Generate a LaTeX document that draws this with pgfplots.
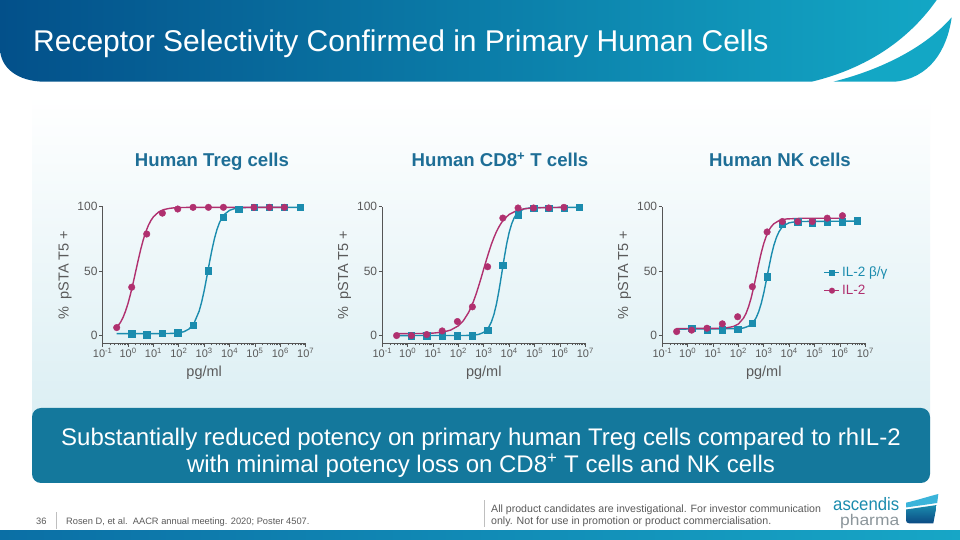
\documentclass[border=0pt]{standalone}
\usepackage{fontspec}
\setmainfont{Liberation Sans}
\usepackage{graphicx}
\usepackage{pgfplots}
\pgfplotsset{compat=1.18}
\definecolor{tealc}{HTML}{1B8CAE}
\definecolor{magc}{HTML}{B0306F}
\definecolor{titleblue}{HTML}{1E6E96}
\definecolor{axisgray}{HTML}{555555}
\definecolor{labelgray}{HTML}{5A5A5A}
\definecolor{boxblue}{HTML}{14789C}
\definecolor{bannerL}{HTML}{03508A}
\definecolor{bannerR}{HTML}{13A7C5}
\definecolor{panelc}{HTML}{DAEEF3}
\definecolor{bandL}{HTML}{0B6FA5}
\definecolor{bandR}{HTML}{17A6C6}
\definecolor{logoL}{HTML}{3BB4DA}
\definecolor{logoD}{HTML}{0B4A83}
\definecolor{logogray}{HTML}{8C969B}
\pgfplotsset{
 cell/.style={
  scale only axis, width=203pt, height=136.6pt, anchor=south west,
  xmin=-1, xmax=7, ymin=-6, ymax=100,
  axis x line*=bottom, axis y line*=left,
  axis line style={draw=axisgray, line width=0.9pt, -},
  xtick={-1,0,1,2,3,4,5,6,7},
  xticklabels={10\textsuperscript{-1},10\textsuperscript{0},10\textsuperscript{1},10\textsuperscript{2},10\textsuperscript{3},10\textsuperscript{4},10\textsuperscript{5},10\textsuperscript{6},10\textsuperscript{7}},
  minor xtick={-0.699,-0.523,-0.398,-0.301,-0.222,-0.155,-0.097,-0.046,
   0.301,0.477,0.602,0.699,0.778,0.845,0.903,0.954,
   1.301,1.477,1.602,1.699,1.778,1.845,1.903,1.954,
   2.301,2.477,2.602,2.699,2.778,2.845,2.903,2.954,
   3.301,3.477,3.602,3.699,3.778,3.845,3.903,3.954,
   4.301,4.477,4.602,4.699,4.778,4.845,4.903,4.954,
   5.301,5.477,5.602,5.699,5.778,5.845,5.903,5.954,
   6.301,6.477,6.602,6.699,6.778,6.845,6.903,6.954},
  ytick={0,50,100}, yticklabels={0,50,100},
  tick align=outside, major tick length=3.5pt, minor tick length=2pt,
  tick style={draw=axisgray, line width=0.8pt},
  x tick label style={font=\fontsize{11}{12}\selectfont, text=labelgray, inner sep=1pt},
  y tick label style={font=\fontsize{12}{14}\selectfont, text=labelgray, inner sep=1.5pt},
  xlabel={pg/ml},
  xlabel style={at={(axis description cs:0.5,-0.217)}, anchor=center, font=\fontsize{14.5}{16}\selectfont, text=labelgray},
  ylabel={\%\hspace{7pt}pSTA T5 +},
  ylabel style={at={(axis description cs:-0.186,0.5)}, anchor=center, font=\fontsize{14.5}{16}\selectfont, text=labelgray},
  clip=false,
 },
 curve/.style={line width=1.4pt, line join=round},
 sq/.style={only marks, mark=square*, mark size=3.2pt, tealc},
 ci/.style={only marks, mark=*, mark size=3.3pt, magc},
}
\begin{document}
\begin{tikzpicture}
\begin{scope}[x=1pt,y=1pt]
\useasboundingbox (0,0) rectangle (960,540);
\fill[white] (0,0) rectangle (960,540);
% panel
\shade[top color=white, bottom color=panelc] (32,110) rectangle (930,445);
% banner
\shade[left color=bannerL, right color=bannerR] (0,540) -- (936.7,540) .. controls (905,495) and (860,470) .. (811.7,458.3) -- (45,458.3) .. controls (18,458.3) and (0,472) .. (0,492) -- cycle;
\fill[bannerR] (951.7,522.7) .. controls (925,492) and (880,470) .. (833.3,458.3) -- (895,458.3) .. controls (930,462) and (947,490) .. (951.7,522.7) -- cycle;
\node[anchor=base west, text=white, font=\fontsize{30}{36}\selectfont, inner sep=0pt] at (33,488) {Receptor Selectivity Confirmed in Primary Human Cells};
% subplot titles
\node[anchor=base, font=\bfseries\fontsize{18.6}{20}\selectfont, text=titleblue, inner sep=0pt] at (212,373) {Human Treg cells};
\node[anchor=base, font=\bfseries\fontsize{18.6}{20}\selectfont, text=titleblue, inner sep=0pt] at (500,373) {Human CD8\textsuperscript{+} T cells};
\node[anchor=base, font=\bfseries\fontsize{18.6}{20}\selectfont, text=titleblue, inner sep=0pt] at (780,373) {Human NK cells};
% box
\fill[boxblue, rounded corners=9pt] (32,57) rectangle (930,132);
\node[anchor=base, text=white, font=\fontsize{24}{28}\selectfont, inner sep=0pt] at (481,94) {Substantially reduced potency on primary human Treg cells compared to rhIL-2};
\node[anchor=base, text=white, font=\fontsize{24}{28}\selectfont, inner sep=0pt] at (481,67) {with minimal potency loss on CD8\textsuperscript{+} T cells and NK cells};
% footer
\node[anchor=base west, text=labelgray, font=\fontsize{9.3}{11}\selectfont, inner sep=0pt] at (36,15) {36};
\draw[gray!50, line width=0.6pt] (56,11) -- (56,28);
\node[anchor=base west, text=labelgray, font=\fontsize{9.3}{11}\selectfont, inner sep=0pt] at (66,15) {Rosen D, et al.\ \ AACR annual meeting. 2020; Poster 4507.};
\draw[gray!50, line width=0.6pt] (484,13) -- (484,40);
\node[anchor=base west, text=labelgray, font=\fontsize{10.6}{12}\selectfont, inner sep=0pt] at (491,27.5) {All product candidates are investigational. For investor communication};
\node[anchor=base west, text=labelgray, font=\fontsize{10.6}{12}\selectfont, inner sep=0pt] at (491,15.5) {only. Not for use in promotion or product commercialisation.};
\node[anchor=base west, text=tealc, inner sep=0pt] at (833,29) {\resizebox{66pt}{\height}{\fontsize{18}{18}\selectfont ascendis}};
\node[anchor=base west, text=logogray, inner sep=0pt] at (840,14.5) {\resizebox{59pt}{\height}{\fontsize{15.5}{16}\selectfont pharma}};
\fill[logoL] (906,37.3) .. controls (918,40) and (930,44) .. (938.3,46) -- (937.2,37) -- (906,32.5) -- cycle;
\shade[top color=tealc, bottom color=logoD] (906,30.5) -- (936.8,35) -- (933.3,16.7) -- (909,16.7) .. controls (907,16.7) and (906,18) .. (906,20) -- cycle;
% bottom band
\shade[left color=bandL, right color=bandR] (0,0) rectangle (960,9.5);
\end{scope}

% ---- Treg
\begin{axis}[cell, at={(102.7pt,196.7pt)}]
\addplot[curve, tealc] coordinates {(-0.45,1.5) (1.0,1.5) (1.6,1.6) (1.8,1.77) (2.0,2.14) (2.2,3.0) (2.4,5.05) (2.6,9.6) (2.8,18.9) (2.9,26.1) (3.0,34.9) (3.1,45.2) (3.2,55.9) (3.3,66.0) (3.4,74.9) (3.5,82.1) (3.6,87.5) (3.7,91.4) (3.8,94.1) (4.0,97.2) (4.2,98.5) (4.4,99.1) (4.7,99.4) (6.78,99.5)};
\addplot[curve, magc] coordinates {(-0.45,6.2) (-0.3,10.2) (-0.2,14.0) (-0.1,18.95) (0,25.1) (0.1,32.5) (0.2,40.8) (0.3,49.75) (0.4,58.6) (0.5,67.0) (0.6,74.4) (0.7,80.6) (0.8,85.5) (0.9,89.3) (1.0,92.2) (1.2,95.8) (1.4,97.7) (1.6,98.6) (1.8,99.1) (2.0,99.3) (2.5,99.5) (6.17,99.5)};
\addplot[sq] coordinates {(0.143,1.3) (0.735,0.8) (1.352,1.8) (1.957,2.3) (2.561,8) (3.166,50.4) (3.757,91.7) (4.36,98.2) (4.96,99.5) (5.57,99.5) (6.16,99.5) (6.78,99.5)};
\addplot[ci] coordinates {(-0.448,6.2) (0.143,37.5) (0.735,78.8) (1.352,95) (1.957,98.2) (2.561,99.5) (3.166,99.5) (3.757,99.5) (4.96,99.5) (5.57,99.5) (6.16,99.5)};
\end{axis}

% ---- CD8
\begin{axis}[cell, at={(382.3pt,196.7pt)}]
\addplot[curve, tealc] coordinates {(-0.45,0) (2.2,0.05) (2.4,0.12) (2.6,0.34) (2.8,0.93) (3.0,2.5) (3.2,6.7) (3.3,10.6) (3.4,16.4) (3.5,24.6) (3.6,35.1) (3.7,47.2) (3.8,59.7) (3.9,71.0) (4.0,80.1) (4.1,86.8) (4.2,91.5) (4.3,94.5) (4.4,96.4) (4.6,98.4) (4.9,99.3) (6.75,99.5)};
\addplot[curve, magc] coordinates {(-0.45,1.5) (0.5,1.6) (1.0,1.9) (1.4,2.7) (1.7,4.3) (2.0,7.6) (2.2,11.7) (2.4,17.9) (2.5,22.1) (2.6,26.9) (2.7,32.4) (2.8,38.6) (2.9,45.1) (3.0,51.9) (3.1,58.5) (3.2,64.9) (3.3,70.9) (3.4,76.1) (3.5,80.7) (3.6,84.5) (3.7,87.7) (3.8,90.3) (4.0,94.0) (4.3,97.0) (4.6,98.4) (5.0,99.1) (6.16,99.5)};
\addplot[sq] coordinates {(0.15,0) (0.75,0) (1.36,0) (1.96,0) (2.55,0) (3.15,4.1) (3.75,54.4) (4.35,93.8) (4.96,99) (5.56,99) (6.16,99) (6.75,99.5)};
\addplot[ci] coordinates {(-0.437,0) (0.15,0) (0.75,0.8) (1.36,3.6) (1.96,10.9) (2.55,22.3) (3.15,53.4) (3.75,91.2) (4.35,99) (4.96,99) (5.56,99) (6.16,99.5)};
\end{axis}

% ---- NK
\begin{axis}[cell, at={(662.3pt,196.7pt)},
  legend style={at={(axis description cs:0.795,0.575)}, anchor=north west, draw=none, fill=none, inner sep=0pt, font=\fontsize{13.5}{15}\selectfont, row sep=3pt},
  legend cell align=left,
  legend image code/.code={\draw[mark repeat=2,mark phase=2,#1] plot coordinates {(0pt,0pt)(7.5pt,0pt)(15pt,0pt)};}]
\addplot[curve, tealc, forget plot] coordinates {(-0.45,5) (2.0,5.34) (2.2,5.88) (2.4,7.28) (2.6,10.7) (2.7,13.9) (2.8,18.6) (2.9,25.0) (3.0,33.2) (3.1,42.9) (3.2,52.9) (3.3,62.4) (3.4,70.3) (3.5,76.3) (3.6,80.6) (3.7,83.6) (3.8,85.5) (4.0,87.5) (4.3,88.5) (6.67,88.8)};
\addplot[curve, magc, forget plot] coordinates {(-0.45,5.5) (1.0,5.55) (1.5,5.9) (1.8,7.0) (2.0,9.0) (2.2,13.5) (2.3,17.2) (2.4,22.4) (2.5,29.1) (2.6,37.3) (2.7,46.4) (2.8,55.6) (2.9,64.3) (3.0,71.6) (3.1,77.3) (3.2,81.7) (3.3,84.7) (3.4,86.8) (3.6,89.2) (3.9,90.5) (4.5,91) (6.1,91)};
\addplot[sq, forget plot] coordinates {(0.156,5.5) (0.76,4.4) (1.365,4.4) (1.97,5.0) (2.55,9.7) (3.13,45.7) (3.73,86.2) (4.34,88.5) (4.91,87.5) (5.5,88) (6.1,88.5) (6.67,89)};
\addplot[ci, forget plot] coordinates {(-0.435,3.1) (0.156,4.2) (0.76,5.7) (1.365,9.1) (1.97,14.6) (2.55,37.9) (3.13,80.4) (3.73,88.5) (4.34,88.5) (4.91,88.5) (5.5,91.1) (6.1,93)};
\addlegendimage{tealc, line width=1.2pt, mark=square*, mark size=2.4pt}
\addlegendentry{\textcolor{tealc}{IL-2 β/γ}}
\addlegendimage{magc, line width=1.2pt, mark=*, mark size=2.4pt}
\addlegendentry{\textcolor{magc}{IL-2}}
\end{axis}
\end{tikzpicture}
\end{document}
